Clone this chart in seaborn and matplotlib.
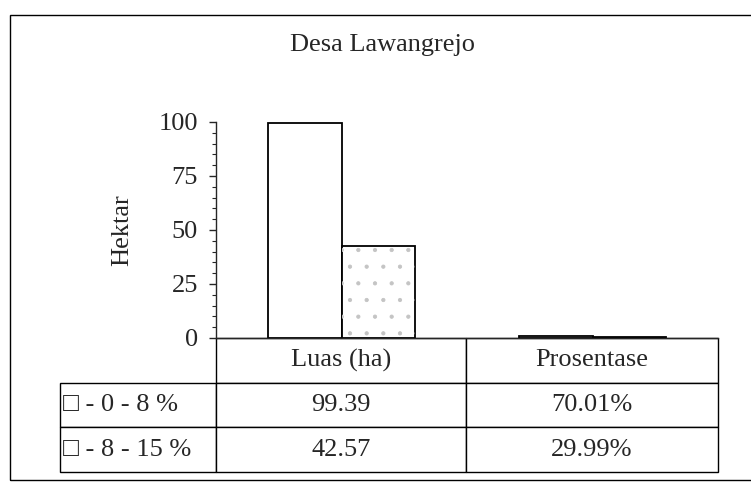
import matplotlib
matplotlib.use("Agg")
import matplotlib.pyplot as plt
import pandas as pd
import seaborn as sns
from matplotlib.patches import Rectangle

# data
kategori = ["Luas (ha)", "Prosentase"]
kelas = ["0 - 8 %", "8 - 15 %"]
luas = [99.39, 42.57]
prosentase = [0.7001, 0.2999]
label_luas = ["99.39", "42.57"]
label_persen = ["70.01%", "29.99%"]

df = pd.DataFrame({
    "kategori": [kategori[0]] * 2 + [kategori[1]] * 2,
    "kelas": kelas + kelas,
    "nilai": luas + prosentase,
})

sns.set_style("white")
plt.rcParams["font.family"] = ["Liberation Serif", "DejaVu Sans"]
plt.rcParams["hatch.linewidth"] = 0.6
FS = 19

fig = plt.figure(figsize=(7.51, 4.87), dpi=100)
ax = fig.add_axes([216 / 751, 1 - 338 / 487, 502 / 751, 216 / 487])

sns.barplot(data=df, x="kategori", y="nilai", hue="kelas", order=kategori,
            hue_order=kelas, palette=["white", "white"], width=0.584,
            edgecolor="black", linewidth=1.3, gap=0, legend=False, ax=ax)

# second class gets a light dotted fill (overlay on the same bar geometry)
n = len(kategori)
for i, bar in enumerate(list(ax.patches)):
    if i >= n:
        ov = Rectangle(bar.get_xy(), bar.get_width(), bar.get_height(),
                       fill=False, hatch=".", edgecolor="#c4c4c4",
                       linewidth=0, zorder=bar.get_zorder() + 0.1)
        ax.add_patch(ov)

ax.set_ylim(0, 100)
ax.set_xlim(-0.5, 1.5)
ax.set_yticks([0, 25, 50, 75, 100])
ax.set_yticks(range(0, 101, 5), minor=True)
ax.tick_params(axis="y", which="major", direction="out", length=5, width=1,
               labelsize=FS, pad=8, left=True)
ax.tick_params(axis="y", which="minor", direction="out", length=3, width=0.8,
               left=True)
ax.set_xticks([])
ax.set_xlabel("")
ax.set_ylabel("Hektar", fontsize=FS, labelpad=18)
for s in ["top", "right"]:
    ax.spines[s].set_visible(False)
ax.spines["left"].set_linewidth(1)
ax.spines["bottom"].set_linewidth(1)

# data table below the plot
cell_text = [["", kategori[0], kategori[1]],
             ["\u25a1 - " + kelas[0], label_luas[0], label_persen[0]],
             ["\u25a1 - " + kelas[1], label_luas[1], label_persen[1]]]
left = (60 - 216) / 502
tbl = ax.table(cellText=cell_text, colWidths=[156, 250, 252],
               bbox=[left, -0.62, 1 - left, 0.62], cellLoc="center")
tbl.auto_set_font_size(False)
for (r, c), cell in tbl.get_celld().items():
    cell.set_linewidth(1)
    cell.get_text().set_fontsize(FS)
    if r == 0 and c == 0:
        cell.visible_edges = ""
    if c == 0 and r > 0:
        cell.get_text().set_ha("left")
        cell.PAD = 0.02

fig.text(383 / 751, 1 - 45 / 487, "Desa Lawangrejo", ha="center", va="center",
         fontsize=FS)

# outer chart border
fig.patches.append(Rectangle((10 / 751, 1 - 480 / 487), 0.995, 465 / 487,
                             transform=fig.transFigure, fill=False,
                             edgecolor="black", linewidth=1))

fig.savefig("out.png", dpi=100)
